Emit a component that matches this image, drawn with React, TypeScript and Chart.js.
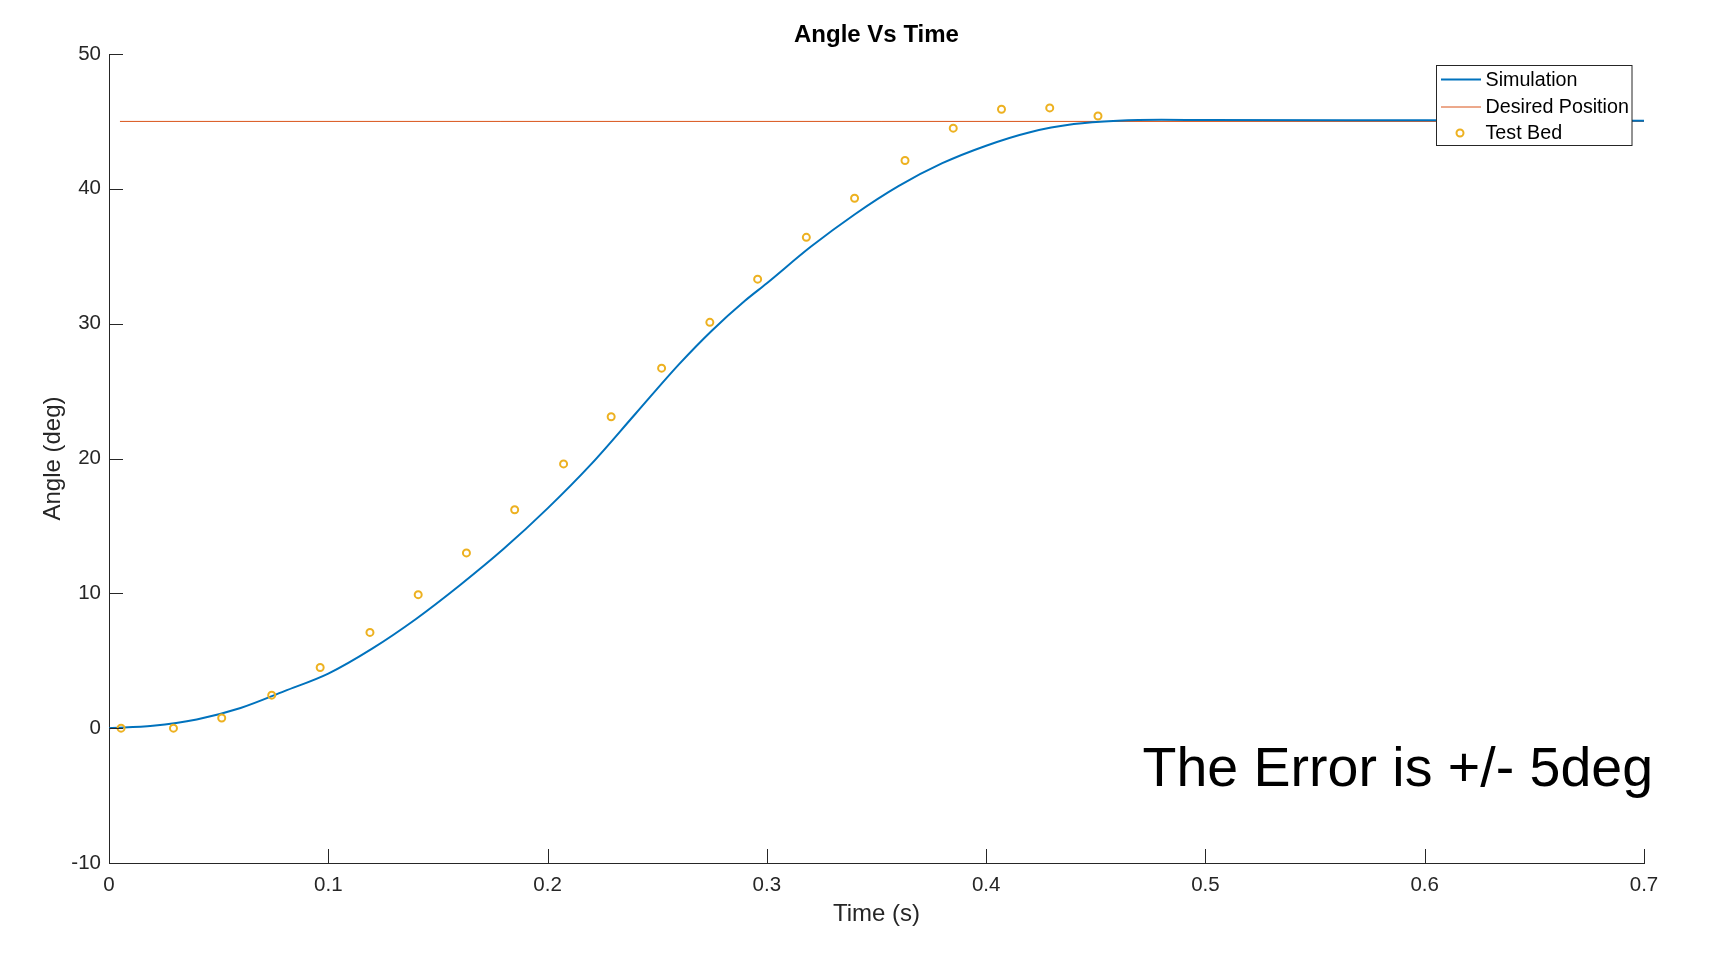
import React, { useEffect, useRef } from 'react';
import { Chart, registerables } from 'chart.js';

Chart.register(...registerables);

// ---- Data ----
const simTime = [0, 0.02, 0.04, 0.06, 0.08, 0.1, 0.12, 0.14, 0.16, 0.18, 0.2, 0.22, 0.24, 0.26, 0.275, 0.29, 0.3, 0.32, 0.34, 0.36, 0.38, 0.4, 0.42, 0.44, 0.46, 0.48, 0.5, 0.6, 0.7];
const simAngle = [0, 0.18, 0.65, 1.5, 2.75, 4.05, 5.9, 8.1, 10.6, 13.3, 16.3, 19.6, 23.3, 27.0, 29.5, 31.7, 33.0, 35.7, 38.1, 40.2, 41.9, 43.2, 44.2, 44.8, 45.05, 45.12, 45.1, 45.08, 45.05];

const desiredTime = [0.005, 0.7];
const desiredAngle = [45, 45];

const bedTime = [0.0055, 0.0294, 0.0514, 0.0742, 0.0963, 0.119, 0.141, 0.163, 0.185, 0.2073, 0.229, 0.252, 0.274, 0.2958, 0.318, 0.34, 0.363, 0.385, 0.407, 0.429, 0.451];
const bedAngle = [0.0, 0.0, 0.75, 2.45, 4.5, 7.1, 9.9, 13.0, 16.2, 19.6, 23.1, 26.7, 30.1, 33.3, 36.4, 39.3, 42.1, 44.5, 45.9, 46.0, 45.4];

const xTicks = [0, 0.1, 0.2, 0.3, 0.4, 0.5, 0.6, 0.7];
const xTickLabels = ['0', '0.1', '0.2', '0.3', '0.4', '0.5', '0.6', '0.7'];
const yTicks = [-10, 0, 10, 20, 30, 40, 50];
const yTickLabels = ['-10', '0', '10', '20', '30', '40', '50'];

const seriesNames = ['Simulation', 'Desired Position', 'Test Bed'];
const chartTitle = 'Angle Vs Time';
const xTitle = 'Time (s)';
const yTitle = 'Angle (deg)';
const noteText = 'The Error is +/- 5deg';

// ---- Styles ----
const FONT = '"Liberation Sans", Arial, Helvetica, sans-serif';
const AX = '#262626';
const BLUE = '#0072BD';
const ORANGE = '#D95319';
const YELLOW = '#EDB120';

const zip = (xs: number[], ys: number[]) => xs.map((x, i) => ({ x, y: ys[i] }));

const decor = {
  id: 'decor',
  afterDraw(chart: any) {
    const { ctx, chartArea: a, scales } = chart;
    const xs = scales.x;
    const ys = scales.y;
    ctx.save();
    // inward ticks
    ctx.strokeStyle = AX;
    ctx.lineWidth = 1;
    ctx.beginPath();
    xTicks.forEach((v) => {
      const px = Math.round(xs.getPixelForValue(v)) + 0.5;
      ctx.moveTo(px, a.bottom);
      ctx.lineTo(px, a.bottom - 14);
    });
    yTicks.forEach((v) => {
      const py = Math.round(ys.getPixelForValue(v)) + 0.5;
      ctx.moveTo(a.left, py);
      ctx.lineTo(a.left + 14, py);
    });
    ctx.stroke();

    // title
    ctx.fillStyle = '#000';
    ctx.font = `bold 24px ${FONT}`;
    ctx.textAlign = 'center';
    ctx.textBaseline = 'middle';
    ctx.fillText(chartTitle, (a.left + a.right) / 2, 35);

    // legend
    const bx = a.right - 207.5;
    const by = a.top + 11.5;
    const bw = 195.5;
    const bh = 80;
    ctx.fillStyle = '#fff';
    ctx.fillRect(bx, by, bw, bh);
    ctx.strokeStyle = AX;
    ctx.lineWidth = 1;
    ctx.strokeRect(bx, by, bw, bh);
    const rows = [by + 14, by + 41, by + 67.5];
    // Simulation
    ctx.strokeStyle = BLUE;
    ctx.lineWidth = 2;
    ctx.beginPath();
    ctx.moveTo(bx + 4.5, rows[0]);
    ctx.lineTo(bx + 44.5, rows[0]);
    ctx.stroke();
    // Desired
    ctx.strokeStyle = ORANGE;
    ctx.lineWidth = 1;
    ctx.beginPath();
    ctx.moveTo(bx + 4.5, rows[1] + 0.5);
    ctx.lineTo(bx + 44.5, rows[1] + 0.5);
    ctx.stroke();
    // Test bed
    ctx.strokeStyle = YELLOW;
    ctx.lineWidth = 2;
    ctx.beginPath();
    ctx.arc(bx + 23.5, rows[2], 3.5, 0, Math.PI * 2);
    ctx.stroke();
    ctx.fillStyle = '#000';
    ctx.font = `19.7px ${FONT}`;
    ctx.textAlign = 'left';
    ctx.textBaseline = 'middle';
    seriesNames.forEach((n, i) => ctx.fillText(n, bx + 49, rows[i] + 1));

    // annotation
    ctx.font = `55.5px ${FONT}`;
    ctx.fillStyle = '#000';
    ctx.textAlign = 'right';
    ctx.textBaseline = 'alphabetic';
    ctx.fillText(noteText, a.right + 9, 786);
    ctx.restore();
  },
};

export default function App() {
  const ref = useRef<HTMLCanvasElement | null>(null);
  useEffect(() => {
    if (!ref.current) return;
    const chart = new Chart(ref.current, {
      type: 'scatter',
      data: {
        datasets: [
          {
            label: seriesNames[0],
            data: zip(simTime, simAngle),
            showLine: true,
            borderColor: BLUE,
            backgroundColor: BLUE,
            borderWidth: 2,
            pointRadius: 0,
            cubicInterpolationMode: 'monotone',
            order: 1,
          },
          {
            label: seriesNames[1],
            data: zip(desiredTime, desiredAngle),
            showLine: true,
            borderColor: ORANGE,
            backgroundColor: ORANGE,
            borderWidth: 1,
            pointRadius: 0,
            order: 2,
          },
          {
            label: seriesNames[2],
            data: zip(bedTime, bedAngle),
            showLine: false,
            borderColor: YELLOW,
            backgroundColor: 'rgba(0,0,0,0)',
            borderWidth: 2,
            pointRadius: 3.5,
            pointStyle: 'circle',
            order: 0,
          },
        ],
      },
      options: {
        animation: false,
        responsive: false,
        devicePixelRatio: 1,
        events: [],
        layout: { padding: { left: 0, top: 54, right: 80, bottom: 0 } },
        plugins: {
          legend: { display: false },
          title: { display: false },
          tooltip: { enabled: false },
        },
        scales: {
          x: {
            type: 'linear',
            min: 0,
            max: 0.7,
            afterFit: (s: any) => { s.height = 93; },
            afterBuildTicks: (s: any) => { s.ticks = xTicks.map((v) => ({ value: v })); },
            grid: { display: false, drawTicks: false },
            border: { display: true, color: AX, width: 1 },
            ticks: {
              padding: 10,
              color: AX,
              font: { family: FONT, size: 20.5 },
              callback: (_v: any, i: number) => xTickLabels[i],
              maxRotation: 0,
              autoSkip: false,
            },
            title: {
              display: true,
              text: xTitle,
              color: AX,
              font: { family: FONT, size: 24 },
              padding: { top: 0, bottom: 27 },
            },
          },
          y: {
            type: 'linear',
            min: -10,
            max: 50,
            afterFit: (s: any) => { s.width = 109; },
            afterBuildTicks: (s: any) => { s.ticks = yTicks.map((v) => ({ value: v })); },
            grid: { display: false, drawTicks: false },
            border: { display: true, color: AX, width: 1 },
            ticks: {
              padding: 8,
              color: AX,
              font: { family: FONT, size: 20.5 },
              callback: (_v: any, i: number) => yTickLabels[i],
              autoSkip: false,
            },
            title: {
              display: true,
              text: yTitle,
              color: AX,
              font: { family: FONT, size: 24 },
              padding: { top: 39, bottom: 0 },
            },
          },
        },
      },
      plugins: [decor],
    });
    return () => chart.destroy();
  }, []);
  return (
    <div style={{ position: 'fixed', left: 0, top: 0, width: 1724, height: 956, background: '#fff' }}>
      <canvas ref={ref} width={1724} height={956} style={{ width: 1724, height: 956, display: 'block' }} />
    </div>
  );
}
